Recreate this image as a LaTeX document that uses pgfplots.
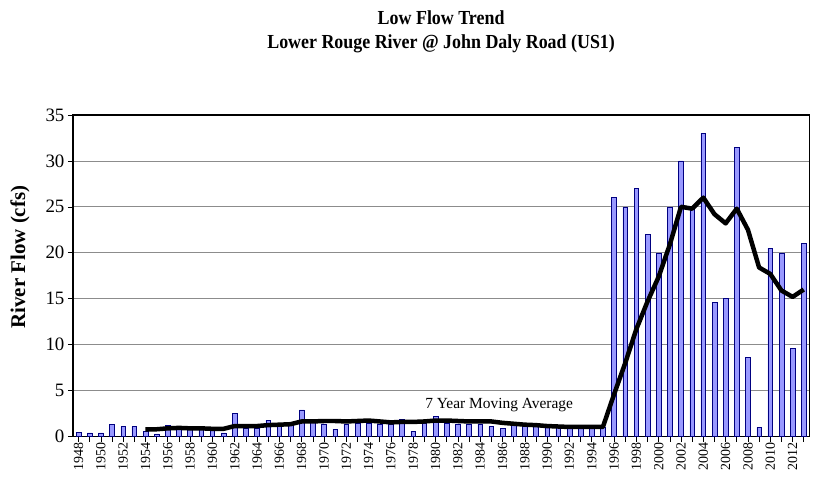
\documentclass[border=0pt]{standalone}
\usepackage{fontspec}
\setmainfont{Liberation Serif}
\newfontfamily\titlefont[FakeStretch=0.9]{Liberation Serif}
\usepackage{pgfplots}
\pgfplotsset{compat=1.18}
\usepackage{pgfplotstable}
\definecolor{barfill}{RGB}{153,153,255}
\definecolor{baredge}{RGB}{0,0,128}

\pgfplotstableread{
x year flow
0 1948 0.5
1 1949 0.4
2 1950 0.4
3 1951 1.3
4 1952 1.1
5 1953 1.1
6 1954 0.6
7 1955 0.3
8 1956 1.2
9 1957 1.0
10 1958 0.9
11 1959 0.9
12 1960 0.9
13 1961 0.4
14 1962 2.5
15 1963 0.9
16 1964 0.9
17 1965 1.8
18 1966 1.2
19 1967 1.2
20 1968 2.9
21 1969 1.8
22 1970 1.4
23 1971 0.8
24 1972 1.4
25 1973 1.5
26 1974 1.5
27 1975 1.3
28 1976 1.3
29 1977 1.9
30 1978 0.6
31 1979 1.5
32 1980 2.2
33 1981 1.5
34 1982 1.4
35 1983 1.4
36 1984 1.4
37 1985 1.1
38 1986 0.9
39 1987 1.2
40 1988 1.1
41 1989 1.1
42 1990 1.1
43 1991 1.0
44 1992 0.9
45 1993 1.0
46 1994 0.9
47 1995 1.0
48 1996 26
49 1997 25
50 1998 27
51 1999 22
52 2000 20
53 2001 25
54 2002 30
55 2003 24.8
56 2004 33
57 2005 14.6
58 2006 15
59 2007 31.5
60 2008 8.6
61 2009 1.0
62 2010 20.5
63 2011 20
64 2012 9.6
65 2013 21
}\flowdata

\pgfplotstableread{
x year ma
6 1954 0.8
7 1955 0.8
8 1956 0.9
9 1957 0.95
10 1958 0.9
11 1959 0.9
12 1960 0.85
13 1961 0.85
14 1962 1.15
15 1963 1.15
16 1964 1.15
17 1965 1.25
18 1966 1.3
19 1967 1.35
20 1968 1.65
21 1969 1.65
22 1970 1.7
23 1971 1.7
24 1972 1.65
25 1973 1.7
26 1974 1.75
27 1975 1.65
28 1976 1.55
29 1977 1.6
30 1978 1.6
31 1979 1.65
32 1980 1.75
33 1981 1.75
34 1982 1.7
35 1983 1.65
36 1984 1.65
37 1985 1.65
38 1986 1.5
39 1987 1.4
40 1988 1.3
41 1989 1.25
42 1990 1.15
43 1991 1.1
44 1992 1.05
45 1993 1.05
46 1994 1.05
47 1995 1.05
48 1996 4.6
49 1997 8.0
50 1998 11.7
51 1999 14.7
52 2000 17.4
53 2001 20.9
54 2002 25.0
55 2003 24.8
56 2004 26.0
57 2005 24.2
58 2006 23.2
59 2007 24.8
60 2008 22.5
61 2009 18.4
62 2010 17.7
63 2011 15.9
64 2012 15.2
65 2013 16.0
}\madata

\begin{document}
\begin{tikzpicture}
\begin{axis}[name=ax, scale only axis, width=737bp, height=322bp,
  xmin=-0.5, xmax=65.5, ymin=0, ymax=35, ytick={0,5,...,35},
  xtick={0,2,...,64},
  xticklabels={1948,1950,1952,1954,1956,1958,1960,1962,1964,1966,1968,1970,1972,1974,1976,1978,1980,1982,1984,1986,1988,1990,1992,1994,1996,1998,2000,2002,2004,2006,2008,2010,2012},
  minor xtick={1,3,...,65},
  tick align=outside, major tick length=5bp, minor tick length=5bp,
  xtick pos=bottom, ytick pos=left,
  ymajorgrids, grid style={gray!90, line width=0.7bp},
  axis line style={black, line width=1.6bp},
  tick style={black, line width=0.6bp},
  x tick label style={rotate=90, anchor=east, font=\fontsize{14}{14}\selectfont, inner sep=1bp},
  y tick label style={font=\fontsize{19}{19}\selectfont},
  /pgf/number format/assume math mode=true,
  ylabel={River Flow (cfs)},
  ylabel style={font=\bfseries\fontsize{21}{21}\selectfont, at={(axis description cs:-0.072,0.558)}, anchor=center},
]
\addplot[ybar, bar width=0.42, fill=barfill, draw=baredge, line width=0.5bp] table[x=x,y=flow]{\flowdata};
\addplot[black, line width=4.5bp, line join=round, mark=none] table[x=x,y=ma]{\madata};
\node[font=\fontsize{15.5}{15.5}\selectfont] at (axis cs:37.7,3.4) {7 Year Moving Average};
\end{axis}
\node[font=\titlefont\bfseries\fontsize{20}{24}\selectfont, align=center] at ([yshift=83bp]ax.north) {Low Flow Trend\\Lower Rouge River @ John Daly Road (US1)};
\pgfresetboundingbox
\path[use as bounding box] ([xshift=-73bp,yshift=-44.3bp]ax.south west) rectangle ([xshift=3.7bp,yshift=115bp]ax.north east);
\end{tikzpicture}
\end{document}
